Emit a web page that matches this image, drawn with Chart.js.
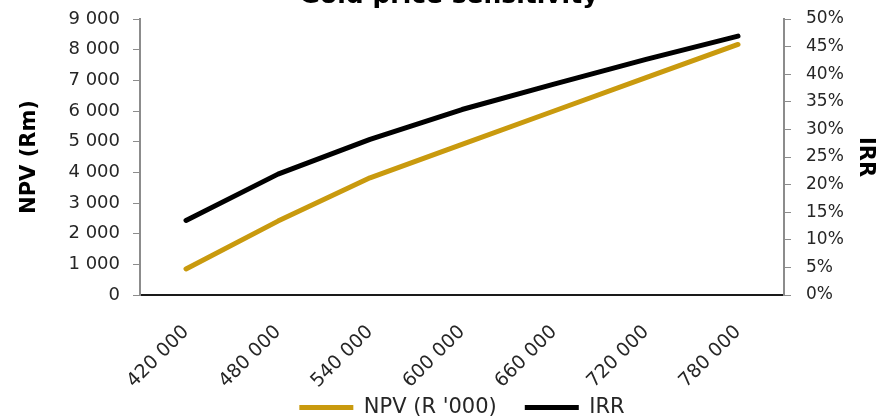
<!DOCTYPE html>
<html>
<head>
<meta charset="utf-8">
<script src="https://cdn.jsdelivr.net/npm/chart.js@4/dist/chart.umd.min.js"></script>
<style>
  html, body { margin: 0; padding: 0; background: #fff; }
  #wrap { width: 884px; height: 419px; overflow: hidden; position: relative; }
  #box { position: absolute; left: 0; top: -19px; width: 884px; height: 447px; }
</style>
</head>
<body>
<div id="wrap"><div id="box"><canvas id="goldChart"></canvas></div></div>
<script>
// gold price (R/kg) scenarios
var prices = ['420 000', '480 000', '540 000', '600 000', '660 000', '720 000', '780 000'];
var npv = [850, 2410, 3820, 4910, 6000, 7090, 8170];
var irr = [0.135, 0.219, 0.282, 0.336, 0.382, 0.427, 0.469];

var gold = '#C99A0E';
var txt = '#262626';
var axisGray = '#8c8c8c';
var fontName = '"DejaVu Sans", sans-serif';

function spaced(v) {
  return String(v).replace(/\B(?=(\d{3})+(?!\d))/g, ' ');
}

var ctx = document.getElementById('goldChart').getContext('2d');
var chart = new Chart(ctx, {
  type: 'line',
  data: {
    labels: prices,
    datasets: [
      {
        label: "NPV (R '000)",
        data: npv,
        yAxisID: 'y',
        borderColor: gold,
        backgroundColor: gold,
        borderWidth: 5,
        borderCapStyle: 'round',
        borderJoinStyle: 'round',
        pointRadius: 0,
        tension: 0
      },
      {
        label: 'IRR',
        data: irr,
        yAxisID: 'y1',
        borderColor: '#000000',
        backgroundColor: '#000000',
        borderWidth: 5,
        borderCapStyle: 'round',
        borderJoinStyle: 'round',
        pointRadius: 0,
        tension: 0
      }
    ]
  },
  options: {
    responsive: true,
    maintainAspectRatio: false,
    animation: false,
    layout: { padding: { left: 14, right: 0, top: 0, bottom: 0 } },
    plugins: {
      title: {
        display: true,
        text: 'Gold price sensitivity',
        color: '#000',
        font: { family: fontName, size: 25, weight: 'bold' },
        padding: { top: 0, bottom: 8 }
      },
      legend: {
        position: 'bottom',
        fullSize: false,
        labels: {
          color: txt,
          font: { family: fontName, size: 21 },
          usePointStyle: true,
          pointStyle: 'line',
          pointStyleWidth: 54,
          boxHeight: 6,
          padding: 8,
          // a bit more room between the two entries
          generateLabels: function (c) {
            var items = Chart.defaults.plugins.legend.labels.generateLabels(c);
            items[0].text = items[0].text + '   ';
            return items;
          }
        }
      },
      tooltip: { enabled: false }
    },
    scales: {
      x: {
        offset: true,
        grid: { display: false, drawTicks: false },
        border: { color: '#1a1a1a', width: 2 },
        ticks: {
          color: txt,
          font: { family: fontName, size: 19 },
          maxRotation: 45,
          minRotation: 45,
          padding: 26
        },
        afterFit: function (s) { s.height = 94; }
      },
      y: {
        position: 'left',
        min: 0,
        max: 9000,
        grid: { drawOnChartArea: false, color: axisGray, tickLength: 7 },
        border: { color: axisGray, width: 2 },
        ticks: {
          stepSize: 1000,
          color: txt,
          font: { family: fontName, size: 18 },
          padding: 13,
          callback: function (v) { return spaced(v); }
        },
        title: {
          display: true,
          text: 'NPV (Rm)',
          color: '#000',
          font: { family: fontName, size: 21, weight: 'bold' },
          padding: { top: 3, bottom: 0 }
        },
        afterFit: function (s) { s.width = 126; }
      },
      y1: {
        position: 'right',
        min: 0,
        max: 0.5,
        grid: { drawOnChartArea: false, color: axisGray, tickLength: 7 },
        border: { color: axisGray, width: 2 },
        ticks: {
          stepSize: 0.05,
          color: txt,
          font: { family: fontName, size: 17 },
          padding: 15,
          callback: function (v) { return Math.round(v * 100) + '%'; }
        },
        title: {
          display: true,
          text: 'IRR',
          color: '#000',
          font: { family: fontName, size: 21, weight: 'bold' },
          padding: { top: 6, bottom: 0 }
        },
        afterFit: function (s) { s.width = 100; }
      }
    }
  }
});
</script>
</body>
</html>
